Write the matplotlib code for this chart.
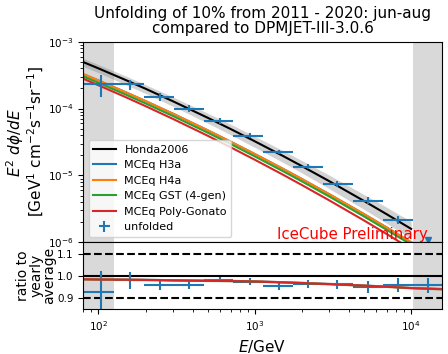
import numpy as np
import matplotlib
matplotlib.use('Agg')
import matplotlib.pyplot as plt

# bin edges of the unfolding (GeV)
bin_edges = [80, 125, 195, 302, 470, 730, 1135, 1765, 2740, 4260, 6620, 10280, 15700]
# energies at which the unfolded points are drawn
e_points = [104, 160, 246, 381, 600, 931, 1419, 2174, 3380, 5330, 8300, 12800]
flux_points = [2.33e-4, 2.31e-4, 1.50e-4, 1.00e-4, 6.49e-5, 3.95e-5, 2.24e-5,
               1.35e-5, 7.5e-6, 4.21e-6, 2.16e-6, 1.07e-6]
flux_relerr = [0.35, 0.17, 0.14, 0.12, 0.10, 0.09, 0.08, 0.09, 0.10, 0.12, 0.14, 0.15]

# ratio to yearly average
ratio_points = [0.928, 0.980, 0.959, 0.959, 0.983, 0.975, 0.955, 0.965, 0.962, 0.950, 0.958, 0.958]
ratio_err = [0.095, 0.038, 0.022, 0.017, 0.012, 0.016, 0.020, 0.019, 0.021, 0.028, 0.031, 0.033]

# model predictions
e_model = [80, 100, 150, 200, 300, 500, 700, 1000, 1500, 2000, 3000, 5000, 7000, 10000, 15700]
honda = [4.95e-4, 3.99e-4, 2.66e-4, 1.98e-4, 1.284e-4, 7.28e-5, 4.95e-5, 3.24e-5,
         1.98e-5, 1.38e-5, 8.19e-6, 4.15e-6, 2.62e-6, 1.59e-6]
honda_relerr = [0.14, 0.14, 0.15, 0.15, 0.16, 0.17, 0.18, 0.19, 0.20, 0.21, 0.23, 0.25, 0.27, 0.29]
h3a = [3.27e-4, 2.63e-4, 1.747e-4, 1.295e-4, 8.375e-5, 4.73e-5, 3.20e-5, 2.09e-5,
       1.272e-5, 8.85e-6, 5.23e-6, 2.64e-6, 1.66e-6, 1.00e-6, 5.4e-7]
h4a = [3.27e-4, 2.63e-4, 1.747e-4, 1.295e-4, 8.375e-5, 4.73e-5, 3.20e-5, 2.09e-5,
       1.272e-5, 8.85e-6, 5.23e-6, 2.64e-6, 1.66e-6, 1.00e-6, 5.4e-7]
gst = [3.02e-4, 2.43e-4, 1.612e-4, 1.195e-4, 7.73e-5, 4.36e-5, 2.955e-5, 1.93e-5,
       1.173e-5, 8.16e-6, 4.83e-6, 2.435e-6, 1.53e-6, 9.25e-7, 4.9e-7]
polygonato = [2.79e-4, 2.23e-4, 1.474e-4, 1.088e-4, 6.99e-5, 3.92e-5, 2.64e-5, 1.717e-5,
              1.038e-5, 7.19e-6, 4.23e-6, 2.12e-6, 1.325e-6, 7.96e-7, 4.1e-7]

ratio_h3a = [0.986, 0.985, 0.984, 0.983, 0.981, 0.979, 0.978, 0.976, 0.972, 0.969, 0.964, 0.957, 0.952, 0.946, 0.941]
ratio_h4a = [0.986, 0.985, 0.984, 0.983, 0.981, 0.979, 0.978, 0.976, 0.972, 0.969, 0.964, 0.957, 0.952, 0.946, 0.941]
ratio_gst = [0.984, 0.983, 0.982, 0.981, 0.979, 0.977, 0.976, 0.974, 0.970, 0.967, 0.962, 0.955, 0.950, 0.944, 0.939]
ratio_pg = [0.985, 0.984, 0.983, 0.982, 0.980, 0.978, 0.977, 0.975, 0.971, 0.968, 0.963, 0.956, 0.951, 0.945, 0.940]

if __name__ == '__main__':
    bin_edges = np.array(bin_edges, dtype=float)
    e_points = np.array(e_points, dtype=float)
    flux_points = np.array(flux_points)
    e_model = np.array(e_model, dtype=float)
    honda = np.array(honda)

    xlo = e_points - bin_edges[:-1]
    xhi = bin_edges[1:] - e_points

    fig = plt.figure(figsize=(4.48, 3.54), dpi=100)
    ax1 = fig.add_axes([0.186, 0.3155, 0.80, 0.5667])
    ax2 = fig.add_axes([0.186, 0.127, 0.80, 0.1885], sharex=ax1)

    # excluded outer bins
    for ax in (ax1, ax2):
        ax.axvspan(bin_edges[0], bin_edges[1], color='0.85', lw=0)
        ax.axvspan(bin_edges[-2], bin_edges[-1], color='0.85', lw=0)

    nh = len(honda)
    ax1.fill_between(e_model[:nh], honda * (1 - np.array(honda_relerr)),
                     honda * (1 + np.array(honda_relerr)), color='0.5', alpha=0.35, lw=0)
    ax1.plot(e_model[:nh], honda, color='k', lw=1.5, label='Honda2006')
    ax1.plot(e_model, h3a, color='C0', lw=1.5, label='MCEq H3a')
    ax1.plot(e_model, h4a, color='C1', lw=1.5, label='MCEq H4a')
    ax1.plot(e_model, gst, color='C2', lw=1.5, label='MCEq GST (4-gen)')
    ax1.plot(e_model, polygonato, color='C3', lw=1.5, label='MCEq Poly-Gonato')

    n = len(e_points) - 1
    ax1.errorbar(e_points[:n], flux_points[:n], xerr=[xlo[:n], xhi[:n]],
                 yerr=flux_points[:n] * np.array(flux_relerr[:n]),
                 fmt='none', ecolor='C0', elinewidth=1.5, label='unfolded')
    ax1.plot(e_points[n], flux_points[n], 'v', color='C0', ms=4)

    ax1.set_xscale('log')
    ax1.set_yscale('log')
    ax1.set_xlim(bin_edges[0], bin_edges[-1])
    ax1.set_ylim(1e-6, 1e-3)
    ax1.tick_params(labelbottom=False, labelsize=7.5)
    ax1.set_ylabel('$E^2\\ d\\phi/dE$\n[GeV$^1$ cm$^{-2}$s$^{-1}$sr$^{-1}$]', fontsize=11,
                   linespacing=0.95)
    ax1.yaxis.set_label_coords(-0.105, 0.5)
    ax1.set_title('Unfolding of 10% from 2011 - 2020: jun-aug\ncompared to DPMJET-III-3.0.6',
                  fontsize=11, linespacing=1.05)
    ax1.legend(loc='lower left', fontsize=8)
    ax1.text(0.54, 0.0, 'IceCube Preliminary', color='red', fontsize=10.8,
             transform=ax1.transAxes, va='bottom')

    # ratio panel
    ax2.axhline(1.0, color='k', lw=1.5)
    ax2.axhline(1.1, color='k', lw=1.5, ls='--')
    ax2.axhline(0.9, color='k', lw=1.5, ls='--')
    ax2.errorbar(e_points, ratio_points, xerr=[xlo, xhi], yerr=ratio_err,
                 fmt='none', ecolor='C0', elinewidth=1.5)
    ax2.plot(e_model, ratio_h3a, color='C0', lw=1.5)
    ax2.plot(e_model, ratio_h4a, color='C1', lw=1.5, alpha=0.6)
    ax2.plot(e_model, ratio_gst, color='C2', lw=1.5, alpha=0.6)
    ax2.plot(e_model, ratio_pg, color='C3', lw=1.5)
    ax2.set_ylim(0.85, 1.153)
    ax2.set_yticks([0.9, 1.0, 1.1])
    ax2.tick_params(labelsize=7.5)
    ax2.set_ylabel('ratio to\nyearly\naverage', fontsize=10, linespacing=0.9)
    ax2.yaxis.set_label_coords(-0.076, 0.5)
    ax2.set_xlabel('$E$/GeV', fontsize=11)

    fig.savefig('out.png', dpi=100)
